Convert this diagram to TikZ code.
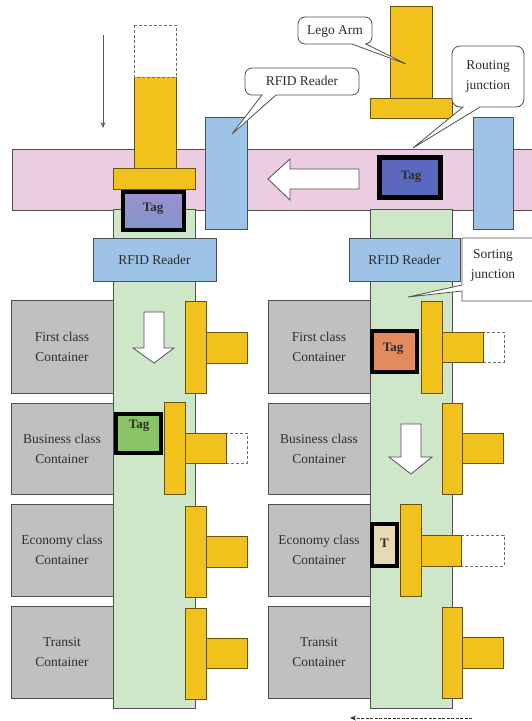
\documentclass[tikz,border=0pt]{standalone}
\usepackage{fontspec}
\setmainfont{Liberation Serif}
\usetikzlibrary{arrows.meta}
\definecolor{pinkband}{RGB}{236,204,224}
\definecolor{greenstrip}{RGB}{206,231,201}
\definecolor{readerblue}{RGB}{157,195,230}
\definecolor{armyellow}{RGB}{242,194,28}
\definecolor{armedge}{RGB}{105,82,10}
\definecolor{contgray}{RGB}{192,192,192}
\definecolor{edgegray}{RGB}{80,80,80}
\definecolor{txt}{RGB}{45,45,45}
\definecolor{tagtop}{RGB}{157,143,211}
\definecolor{tagbot}{RGB}{128,150,200}
\definecolor{tagblue}{RGB}{90,105,190}
\definecolor{taggreen}{RGB}{140,196,106}
\definecolor{tagorange}{RGB}{228,138,96}
\definecolor{tagbeige}{RGB}{232,217,181}
\tikzset{
  band/.style={fill=pinkband, draw=edgegray, line width=0.8pt},
  strip/.style={fill=greenstrip, draw=edgegray, line width=0.8pt},
  reader/.style={fill=readerblue, draw=edgegray, line width=0.8pt},
  arm/.style={fill=armyellow, draw=armedge, line width=0.8pt},
  container/.style={fill=contgray, draw=edgegray, line width=0.8pt},
  ghost/.style={draw=gray!85!black, line width=0.8pt, dash pattern=on 3pt off 2pt},
  tagbox/.style={draw=black, line width=4.5pt},
  callout/.style={fill=white, draw=edgegray, line width=0.8pt},
  lbl/.style={text=txt, font=\fontsize{13.5}{20}\selectfont, align=center, inner sep=0pt},
  taglbl/.style={text=txt, font=\fontsize{13}{16}\selectfont\bfseries, inner sep=0pt},
  bigarrow/.style={fill=white, draw=edgegray, line width=0.8pt, line join=miter}
}
\begin{document}
\begin{tikzpicture}[x=1pt,y=-1pt]
\clip (0,0) rectangle (532,721);
\fill[white] (0,0) rectangle (532,721);

% conveyor band
\draw[band] (12,149) rectangle (545,210);
% sorting strips
\draw[strip] (113,209) rectangle (195,708);
\draw[strip] (370,209) rectangle (452,708);
% readers on band
\draw[reader] (205,117) rectangle (247,229);
\draw[reader] (473,117) rectangle (513,229);

% left arm (lowered)
\fill[armyellow] (134,77) rectangle (176,168);
\draw[armedge, line width=0.8pt] (134,77) -- (134,168) (176,77) -- (176,168);
\draw[ghost] (134,25) rectangle (176,77);
\draw[arm] (113,168) rectangle (195,189);
\shade[top color=tagtop, bottom color=tagbot] (123,192) rectangle (184,230);
\draw[tagbox] (123,192) rectangle (184,230);
\node[taglbl] (tagA) at (153,209) {Tag};

% right arm (raised)
\draw[arm] (390,6) rectangle (432,98);
\draw[arm] (370,98) rectangle (452,118);
\draw[tagbox, fill=tagblue] (379.5,157.5) rectangle (440.5,197.5);
\node[taglbl] (tagB) at (411,177) {Tag};

% white arrow on band
\draw[bigarrow] (359,169) -- (290,169) -- (290,159) -- (268,179) -- (290,200) -- (290,189) -- (359,189) -- cycle;

% callouts
\draw[callout] (232,134) -- (276,95) {[rounded corners=7pt] -- (359,95) -- (359,68) -- (245,68) -- (245,95)} -- (262,95) -- cycle;
\node[lbl] (cRFID) at (302,81) {RFID Reader};
\draw[callout] (406,64) -- (366,44) {[rounded corners=7pt] -- (372,44) -- (372,17) -- (298,17) -- (298,44)} -- (352,44) -- cycle;
\node[lbl] (cLego) at (335,31) {Lego Arm};
\draw[callout] (413,148) -- (480,107) {[rounded corners=8pt] -- (524,107) -- (524,46) -- (452,46) -- (452,107)} -- (463,107) -- cycle;
\node[lbl] (cRout) at (488,76) {Routing\\junction};

% reader boxes on strips
\draw[reader] (93,238) rectangle (216,281);
\node[lbl] (rdL) at (154.5,259.5) {RFID Reader};
\draw[reader] (349,238) rectangle (460,281);
\node[lbl] (rdR) at (404.5,259.5) {RFID Reader};

% sorting junction callout
\draw[callout] (462,285) -- (408,297) -- (462,291) -- (462,301) -- (545,301) -- (545,238) -- (462,238) -- cycle;
\node[lbl] (cSort) at (493,265.5) {Sorting\\junction};

% containers left
\draw[container] (11,300) rectangle (113,393);
\node[lbl] (cl1) at (62,346.5) {First class\\Container};
\draw[container] (11,403) rectangle (113,494);
\node[lbl] (cl2) at (62,448.5) {Business class\\Container};
\draw[container] (11,504) rectangle (113,596);
\node[lbl] (cl3) at (62,550) {Economy class\\Container};
\draw[container] (11,606) rectangle (113,698);
\node[lbl] (cl4) at (62,652) {Transit\\Container};
% containers right
\draw[container] (268,300) rectangle (370,393);
\node[lbl] (cr1) at (319,346.5) {First class\\Container};
\draw[container] (268,403) rectangle (370,494);
\node[lbl] (cr2) at (319,448.5) {Business class\\Container};
\draw[container] (268,504) rectangle (370,596);
\node[lbl] (cr3) at (319,550) {Economy class\\Container};
\draw[container] (268,606) rectangle (370,698);
\node[lbl] (cr4) at (319,652) {Transit\\Container};

% paddles left
\draw[arm] (206,332) rectangle (247,363);
\draw[arm] (185,301) rectangle (206,393);
\draw[ghost] (226,433) rectangle (247,463);
\draw[arm] (185,433) rectangle (226,463);
\draw[arm] (164,402) rectangle (185,494);
\draw[arm] (206,536) rectangle (247,567);
\draw[arm] (185,506) rectangle (206,597);
\draw[arm] (206,638) rectangle (247,668);
\draw[arm] (185,608) rectangle (206,699);
% paddles right
\draw[ghost] (483,332) rectangle (504,362);
\draw[arm] (442,332) rectangle (483,362);
\draw[arm] (421,301) rectangle (442,393);
\draw[arm] (462,433) rectangle (503,463);
\draw[arm] (442,403) rectangle (462,494);
\draw[ghost] (461,535) rectangle (504,566);
\draw[arm] (421,535) rectangle (461,566);
\draw[arm] (400,504) rectangle (421,596);
\draw[arm] (462,637) rectangle (503,668);
\draw[arm] (442,607) rectangle (462,698);

% tags at junctions
\draw[tagbox, line width=4pt, fill=taggreen] (116,414) rectangle (161,453);
\node[taglbl] (tagC) at (139,426) {Tag};
\draw[tagbox, line width=4pt, fill=tagorange] (372,331) rectangle (417,372);
\node[taglbl] (tagD) at (393,349) {Tag};
\draw[tagbox, line width=4pt, fill=tagbeige] (372,524) rectangle (397,566);
\node[taglbl] (tagE) at (384.5,543) {T};

% white down arrows
\draw[bigarrow] (144,312) -- (164,312) -- (164,348) -- (174,348) -- (154,363) -- (133,348) -- (144,348) -- cycle;
\draw[bigarrow] (401,424) -- (421,424) -- (421,457) -- (432,457) -- (411,474) -- (389,457) -- (401,457) -- cycle;

% motion arrows
\coordinate (dTop) at (103,35);
\coordinate (dBot) at (103,128);
\draw[gray!70!black, line width=0.7pt, -{Stealth[length=6pt,width=5pt]}] (dTop) -- (dBot);
\coordinate (bR) at (472,718);
\coordinate (bL) at (350,718);
\draw[black!80, line width=0.8pt, dash pattern=on 3pt off 1.5pt, -{Stealth[length=6pt,width=5pt]}] (bR) -- (bL);
\end{tikzpicture}
\end{document}
